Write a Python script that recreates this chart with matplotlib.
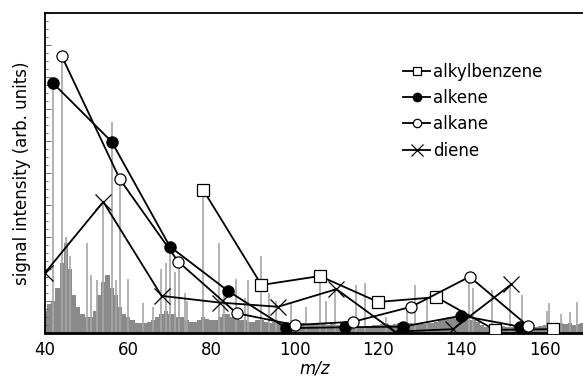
import matplotlib.pyplot as plt
from matplotlib.ticker import MultipleLocator

# fragment series (m/z, relative intensity)
alkylbenzene_mz = [78, 92, 106, 120, 134, 148, 162]
alkylbenzene_y = [0.447, 0.150, 0.178, 0.097, 0.112, 0.010, 0.012]

alkene_mz = [42, 56, 70, 84, 98, 112, 126, 140, 154]
alkene_y = [0.780, 0.598, 0.270, 0.131, 0.015, 0.018, 0.020, 0.054, 0.020]

alkane_mz = [44, 58, 72, 86, 100, 114, 128, 142, 156]
alkane_y = [0.866, 0.480, 0.223, 0.062, 0.025, 0.035, 0.082, 0.176, 0.022]

diene_mz = [40, 54, 68, 82, 96, 110, 124, 138, 152]
diene_y = [0.188, 0.410, 0.116, 0.095, 0.082, 0.137, 0.004, 0.012, 0.152]

# background mass spectrum: dense low-level signal, one value per m/z
grass_mz = list(range(40, 171))
grass_y = [
    0.07, 0.09, 0.10, 0.14, 0.22, 0.28, 0.20, 0.12, 0.08, 0.06,   # 40-49
    0.05, 0.05, 0.07, 0.12, 0.16, 0.18, 0.14, 0.12, 0.08, 0.06,   # 50-59
    0.05, 0.04, 0.03, 0.03, 0.03, 0.035, 0.04, 0.05, 0.06, 0.07,  # 60-69
    0.06, 0.06, 0.05, 0.05, 0.04, 0.035, 0.035, 0.04, 0.05, 0.045,  # 70-79
    0.04, 0.04, 0.05, 0.06, 0.06, 0.05, 0.05, 0.04, 0.04, 0.035,  # 80-89
    0.035, 0.04, 0.04, 0.035, 0.03, 0.035, 0.03, 0.03, 0.03, 0.03,  # 90-99
    0.03, 0.028, 0.03, 0.025, 0.028, 0.03, 0.03, 0.028, 0.025, 0.028,  # 100-109
    0.025, 0.022, 0.02, 0.022, 0.025, 0.022, 0.02, 0.022, 0.02, 0.025,  # 110-119
    0.025, 0.028, 0.03, 0.025, 0.028, 0.03, 0.028, 0.03, 0.03, 0.028,  # 120-129
    0.03, 0.028, 0.03, 0.03, 0.035, 0.04, 0.045, 0.05, 0.05, 0.045,  # 130-139
    0.05, 0.045, 0.04, 0.04, 0.035, 0.025, 0.02, 0.022, 0.02, 0.02,  # 140-149
    0.022, 0.02, 0.02, 0.022, 0.02, 0.02, 0.018, 0.02, 0.02, 0.022,  # 150-159
    0.025, 0.03, 0.028, 0.025, 0.03, 0.028, 0.03, 0.025, 0.028, 0.03,  # 160-169
    0.025,                                                          # 170
]

# individual taller peaks of the spectrum
peak_mz = [42, 44, 45, 46, 50, 51, 52.5, 54, 56, 57, 58, 60, 63.5, 66,
           67.8, 69, 70, 71.2, 72.2, 73.6, 74, 78, 81.8, 83, 85.9, 88,
           88.8, 92, 93.8, 95.6, 99.2, 102.8, 106, 107.6, 109.6, 114.8,
           116.8, 122, 127, 128.8, 131.7, 141.8, 142.8, 147.3, 151.6,
           154.5, 160.5, 161, 164, 166, 167.7]
peak_y = [0.77, 0.86, 0.30, 0.24, 0.28, 0.18, 0.165, 0.41, 0.66, 0.165,
          0.48, 0.17, 0.094, 0.08, 0.20, 0.22, 0.27, 0.19, 0.22, 0.125,
          0.10, 0.45, 0.28, 0.14, 0.17, 0.11, 0.165, 0.24, 0.125, 0.10,
          0.093, 0.08, 0.17, 0.10, 0.14, 0.15, 0.155, 0.05, 0.08, 0.15,
          0.11, 0.18, 0.14, 0.135, 0.15, 0.12, 0.07, 0.094, 0.06, 0.066,
          0.097]

fig = plt.figure(figsize=(5.83, 3.80), dpi=100)
ax = fig.add_axes([45 / 583, 47 / 380, 540 / 583, 320 / 380])

# spectrum in the background
ax.bar(grass_mz, grass_y, width=1.0, color="#8a8a8a", linewidth=0, zorder=1)
ax.vlines(peak_mz, 0, peak_y, color="#a6a6a6", linewidth=1.2, zorder=1)

line_kw = dict(color="black", linewidth=1.3, zorder=3)
ax.plot(alkylbenzene_mz, alkylbenzene_y, marker="s", markersize=8,
        markerfacecolor="white", markeredgecolor="black", markeredgewidth=0.9,
        label="alkylbenzene", **line_kw)
ax.plot(alkene_mz, alkene_y, marker="o", markersize=8,
        markerfacecolor="black", markeredgecolor="black",
        label="alkene", **line_kw)
ax.plot(alkane_mz, alkane_y, marker="o", markersize=8,
        markerfacecolor="white", markeredgecolor="black", markeredgewidth=0.9,
        label="alkane", **line_kw)
ax.plot(diene_mz, diene_y, marker="x", markersize=11, markeredgewidth=0.9,
        markeredgecolor="black", label="diene", **line_kw)

ax.set_xlim(40, 169.7)
ax.set_ylim(0, 1.0)
ax.set_xticks([40, 60, 80, 100, 120, 140, 160])
ax.tick_params(axis="x", length=0, labelsize=12, pad=6)
ax.yaxis.set_major_locator(MultipleLocator(0.1))
ax.yaxis.set_minor_locator(MultipleLocator(0.025))
ax.tick_params(axis="y", which="both", direction="in", labelleft=False,
               width=0.6, color="#555555")
ax.tick_params(axis="y", which="major", length=4)
ax.tick_params(axis="y", which="minor", length=2)

ax.spines["right"].set_visible(False)
ax.spines["left"].set_linewidth(1.3)
ax.spines["top"].set_linewidth(1.3)
ax.spines["bottom"].set_linewidth(2.0)

ax.set_xlabel("m/z", fontsize=12, fontstyle="italic", labelpad=0)
ax.set_ylabel("signal intensity (arb. units)", fontsize=12, labelpad=10)

ax.legend(loc="upper left", bbox_to_anchor=(0.651, 0.866), frameon=False,
          fontsize=12, handlelength=1.6, handletextpad=0.2,
          labelspacing=0.5, borderaxespad=0, markerscale=0.75)

fig.savefig("out.png", dpi=100)
